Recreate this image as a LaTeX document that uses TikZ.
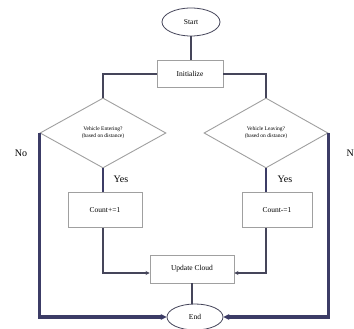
\documentclass[tikz,border=0pt]{standalone}
\usepackage{fontspec}
\setmainfont{Liberation Serif}
\usetikzlibrary{shapes.geometric,arrows.meta}
\definecolor{thinln}{HTML}{45455A}
\definecolor{thickln}{HTML}{3C3C66}
\definecolor{boxln}{HTML}{A0A0A0}
\begin{document}
\begin{tikzpicture}[x=1pt,y=1pt,
  procbox/.style={draw=boxln,line width=0.9pt,rectangle,inner sep=0pt,font=\fontsize{7.5}{9}\selectfont},
  term/.style={draw=thinln,line width=0.8pt,ellipse,inner sep=0pt,font=\fontsize{7.5}{9}\selectfont},
  decision/.style={draw=boxln,line width=0.9pt,diamond,inner sep=0pt,align=center,font=\fontsize{5.5}{6.8}\selectfont},
  thin/.style={draw=thinln,line width=1.7pt},
  yesln/.style={draw=thickln,line width=2.6pt},
  noln/.style={draw=thickln,line width=3.4pt,-{Stealth[length=6pt,width=6pt]}},
  lbl/.style={font=\fontsize{10}{11}\selectfont}]
\fill[white] (0,0) rectangle (354,329);
\useasboundingbox (0,0) rectangle (354,329);
\node[term,minimum width=58pt,minimum height=28pt] (start) at (191,307) {Start};
\node[procbox,minimum width=66pt,minimum height=27pt] (init) at (190,255) {Initialize};
\node[decision,minimum width=126pt,minimum height=70pt] (ld) at (103,196) {Vehicle Entering?\\(based on distance)};
\node[decision,minimum width=124pt,minimum height=70pt] (rd) at (266,196) {Vehicle Leaving?\\(based on distance)};
\node[procbox,minimum width=74pt,minimum height=35pt] (lc) at (105,119) {Count+=1};
\node[procbox,minimum width=70pt,minimum height=35pt] (rc) at (277,119) {Count-=1};
\node[procbox,minimum width=84pt,minimum height=28pt] (upd) at (192,60) {Update Cloud};
\node[term,minimum width=56pt,minimum height=26pt] (end) at (195,12) {End};
\draw[thin] (start.south) -- (start.south |- init.north);
\draw[thin] (init.west) -| (ld.north);
\draw[thin] (init.east) -| (rd.north);
\draw[yesln] (ld.south) -- (ld.south |- lc.north);
\draw[yesln] (rd.south) -- (rd.south |- rc.north);
\draw[thin,-{Stealth[length=4pt,width=4pt]}] (ld.south |- lc.south) |- ([yshift=-4pt]upd.west);
\draw[thin,-{Stealth[length=4pt,width=4pt]}] (rd.south |- rc.south) |- ([yshift=-4pt]upd.east);
\draw[thin] (upd.south -| end.north) ++(-3,0) -- ([xshift=-3pt]end.north);
\draw[noln] (ld.west) -- (ld.west |- end.west) -- (end.west);
\draw[noln] (rd.east) -- (rd.east |- end.east) -- (end.east);
\node[lbl] (yl) at (121,150) {Yes};
\node[lbl] (yr) at (285,150) {Yes};
\node[lbl] (nl) at (21,176) {No};
\node[lbl,anchor=west] (nr) at (343,176) {No};
\end{tikzpicture}
\end{document}
